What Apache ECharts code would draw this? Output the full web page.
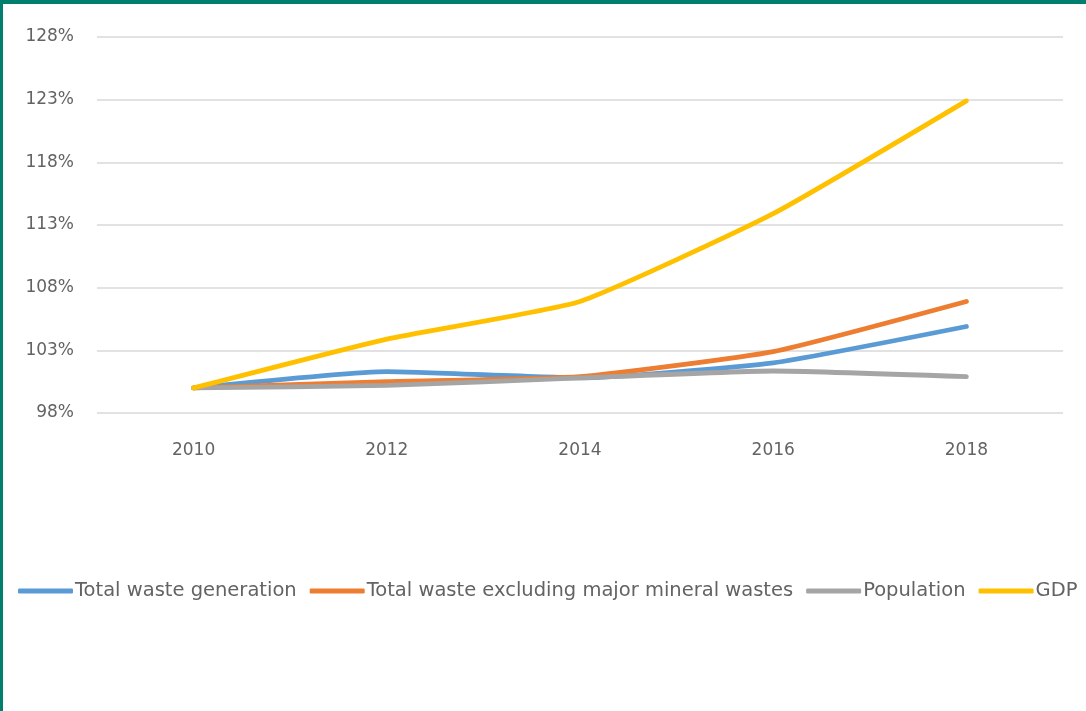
<!DOCTYPE html>
<html>
<head>
<meta charset="utf-8">
<script src="https://cdn.jsdelivr.net/npm/echarts@6/dist/echarts.min.js"></script>
<style>
  html, body { margin: 0; padding: 0; width: 100%; height: 100%; background: #fff; overflow: hidden; }
  #chart { position: absolute; left: 0; top: 0; width: 1086px; height: 711px; }
  .edge-top { position: absolute; left: 0; top: 0; width: 1086px; height: 4px; background: #007f6e; }
  .edge-left { position: absolute; left: 0; top: 0; width: 3px; height: 711px; background: #007f6e; }
</style>
</head>
<body>
<div id="chart"></div>
<div class="edge-top"></div>
<div class="edge-left"></div>
<script>
  var years = ['2010', '2012', '2014', '2016', '2018'];
  var totalWaste = [100, 101.3, 100.8, 102.0, 104.9];
  var wasteExMineral = [100, 100.5, 100.9, 102.9, 106.9];
  var population = [100, 100.2, 100.8, 101.35, 100.9];
  var gdp = [100, 103.9, 106.9, 113.9, 122.9];

  var font = 'DejaVu Sans';
  var textColor = '#636363';

  function line(name, data, color) {
    return {
      name: name,
      type: 'line',
      data: data,
      smooth: 0.15,
      symbol: 'none',
      lineStyle: { color: color, width: 4.8, cap: 'round' },
      itemStyle: { color: color }
    };
  }

  var chart = echarts.init(document.getElementById('chart'));
  chart.setOption({
    animation: false,
    grid: { left: 97, right: 23, top: 37, bottom: 298 },
    legend: {
      left: 13,
      top: 576,
      icon: 'roundRect',
      itemWidth: 55,
      itemHeight: 5,
      itemGap: 13,
      textStyle: { fontFamily: font, fontSize: 19.5, color: textColor, padding: [0, 0, 0, -3] },
      data: ['Total waste generation', 'Total waste excluding major mineral wastes', 'Population', 'GDP']
    },
    xAxis: {
      type: 'category',
      data: years,
      boundaryGap: true,
      axisLine: { show: false },
      axisTick: { show: false },
      axisLabel: { fontFamily: font, fontSize: 17, color: textColor, margin: 29 }
    },
    yAxis: {
      type: 'value',
      min: 98,
      max: 128,
      interval: 5,
      axisLine: { show: false },
      axisTick: { show: false },
      splitLine: { lineStyle: { color: '#d9d9d9', width: 1.5 } },
      axisLabel: {
        fontFamily: font, fontSize: 17, color: textColor, margin: 23,
        formatter: function (v) { return v + '%'; }
      }
    },
    series: [
      line('Total waste generation', totalWaste, '#5b9bd5'),
      line('Total waste excluding major mineral wastes', wasteExMineral, '#ed7d31'),
      line('Population', population, '#a5a5a5'),
      line('GDP', gdp, '#ffc000')
    ]
  });
</script>
</body>
</html>
